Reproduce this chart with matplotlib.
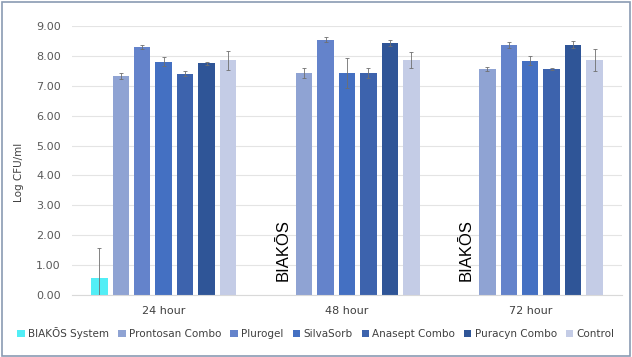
import numpy as np
import matplotlib
matplotlib.use("Agg")
import matplotlib.pyplot as plt
from matplotlib.patches import Rectangle

# data
timepoints = ["24 hour", "48 hour", "72 hour"]
series = ["BIAKŌS System", "Prontosan Combo", "Plurogel", "SilvaSorb",
          "Anasept Combo", "Puracyn Combo", "Control"]
biakos = [0.55, np.nan, np.nan]
prontosan = [7.32, 7.43, 7.57]
plurogel = [8.30, 8.55, 8.35]
silvasorb = [7.81, 7.43, 7.84]
anasept = [7.40, 7.43, 7.56]
puracyn = [7.75, 8.42, 8.38]
control = [7.85, 7.85, 7.85]

biakos_err = [1.03, 0, 0]
prontosan_err = [0.10, 0.18, 0.06]
plurogel_err = [0.08, 0.07, 0.10]
silvasorb_err = [0.15, 0.50, 0.15]
anasept_err = [0.08, 0.17, 0.04]
puracyn_err = [0.04, 0.10, 0.12]
control_err = [0.33, 0.27, 0.37]

values = [biakos, prontosan, plurogel, silvasorb, anasept, puracyn, control]
errors = [biakos_err, prontosan_err, plurogel_err, silvasorb_err,
          anasept_err, puracyn_err, control_err]
colors = ["#52EEF6", "#8FA3D3", "#6483CB", "#4470C2", "#3D63AD", "#2F5597", "#C4CCE6"]

fig = plt.figure(figsize=(6.32, 3.57), dpi=100)
ax = fig.add_axes([0.114, 0.174, 0.870, 0.753])

x = np.arange(len(timepoints))
step = 0.117
width = 0.09
for i, (vals, errs, c, name) in enumerate(zip(values, errors, colors, series)):
    pos = x + (i - 3) * step
    ax.bar(pos, vals, width, color=c, label=name, zorder=2)
    v = np.array(vals, dtype=float)
    ok = ~np.isnan(v)
    ax.errorbar(pos[ok], v[ok], yerr=np.array(errs)[ok], fmt="none",
                ecolor="#6f6f6f", elinewidth=0.6, capsize=1.5, capthick=0.6, zorder=3)

# BIAKOS labels where the bar is absent
for xi in x[1:]:
    ax.text(xi - 3 * step, 0.45, "BIAKŌS", rotation=90, ha="center", va="bottom",
            fontsize=12, family="Liberation Sans", color="black")

ax.set_xlim(-0.5, 2.5)
ax.set_ylim(0, 9)
ax.set_yticks(np.arange(0, 9.01, 1))
ax.set_yticklabels([f"{t:.2f}" for t in np.arange(0, 9.01, 1)], fontsize=8, color="#595959")
ax.set_xticks(x)
ax.set_xticklabels(timepoints, fontsize=8, color="#404040")
ax.tick_params(length=0, pad=8)
ax.tick_params(axis="x", pad=8)
ax.grid(axis="y", color="#e4e4e4", lw=0.8, zorder=0)
for s in ["top", "right", "left"]:
    ax.spines[s].set_visible(False)
ax.spines["bottom"].set_color("#d9d9d9")
ax.set_ylabel("Log CFU/ml", fontsize=7.5, color="#404040")
ax.yaxis.set_label_coords(-0.087, 0.457)

fig.legend(loc="center", bbox_to_anchor=(0.5, 0.067), ncol=7, frameon=False,
           fontsize=7.5, handlelength=0.7, handleheight=0.7, handletextpad=0.3,
           columnspacing=0.9, labelcolor="#404040")

fig.patches.append(Rectangle((0.003, 0.004), 0.994, 0.99, transform=fig.transFigure,
                             fill=False, edgecolor="#8a9bb3", lw=1.2))

fig.savefig("out.png", dpi=100)
